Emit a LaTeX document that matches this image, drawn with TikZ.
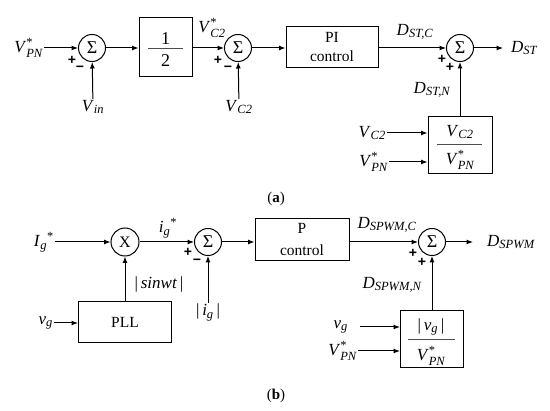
\documentclass[tikz,border=0pt]{standalone}
\usepackage{amsmath}
\usepackage{fontspec}
\setmainfont{Liberation Serif}
\setsansfont{Liberation Sans}
\usetikzlibrary{arrows.meta}
\newcommand\scr{\fontsize{12.5}{12.5}\selectfont}
\newcommand\vlab[3]{\textit{#1}\ensuremath{^{\text{\scr #2}}_{\text{\scr\itshape #3}}}}
\newcommand\vsub[2]{\textit{#1}\ensuremath{_{\text{\scr\itshape #2}}}}
\newcommand\vsubsup[2]{\textit{#1}\ensuremath{_{\text{\scr\itshape #2}}{}^{\text{\scr *}}}}
\begin{document}
\begin{tikzpicture}[x=1pt,y=-1pt,
  every node/.style={font=\fontsize{17}{19}\selectfont},
  sig/.style={draw, line width=1pt, -{Latex[length=6.5pt,width=5pt]}},
  sumc/.style={circle, draw, line width=1pt, minimum size=27pt, inner sep=0pt, font=\fontsize{18}{18}\selectfont},
  blk/.style={rectangle, draw, line width=1pt, inner sep=0pt, align=center, font=\fontsize{15.5}{19}\selectfont},
  lbl/.style={inner sep=1pt},
  frc/.style={inner sep=0pt},
  bar/.style={line width=0.7pt, black!70},
  sgn/.style={inner sep=0pt, font=\sffamily\bfseries\fontsize{14}{14}\selectfont},
  capt/.style={inner sep=0pt, font=\fontsize{15}{18}\selectfont}]
\useasboundingbox (0,0) rectangle (550,411);

% ---------------- (a) ----------------
\node[sumc] (s1) at (92,48) {Σ};
\node[lbl,anchor=east] (vpna) at (44,48) {\vlab{V}{*}{PN}};
\node[sgn] (s1p) at (72,60) {+};
\node[sgn] (s1m) at (80,69) {−};
\node[lbl,anchor=north] (vin) at (93,99) {\vsub{V}{in}};

\node[blk,minimum width=53pt,minimum height=59pt] (half) at (165.5,47.5) {};
\node[frc,font=\fontsize{18}{18}\selectfont] (hn) at (165.5,39) {1};
\node[frc,font=\fontsize{18}{18}\selectfont] (hd) at (165.5,61) {2};
\draw[bar] (148,48) -- (183,48);

\node[lbl] (vc2s) at (212,28) {\vlab{V}{*}{C2}};
\node[sumc] (s2) at (238,48) {Σ};
\node[sgn] (s2p) at (218,60) {+};
\node[sgn] (s2m) at (228,69) {−};
\node[lbl,anchor=north] (vc2) at (239,99) {\vsub{V}{C2}};

\node[blk,minimum width=92pt,minimum height=41pt] (pi) at (332,47.5) {PI\\control};

\node[lbl] (dstc) at (415,32) {\vsub{D}{ST,C}};
\node[sumc] (s3) at (460,48) {Σ};
\node[sgn] (s3p) at (442,59) {+};
\node[sgn] (s3q) at (450,67) {+};
\node[lbl,anchor=west] (dst) at (510,48) {\vsub{D}{ST}};
\node[lbl] (dstn) at (432,90) {\vsub{D}{ST,N}};

\node[blk,minimum width=64pt,minimum height=57pt] (f1) at (460,145.5) {};
\node[frc] (f1n) at (460,132) {\vsub{V}{C2}};
\node[frc] (f1d) at (460,160) {\vlab{V}{*}{PN}};
\draw[bar] (437,144) -- (482,144);
\node[lbl,anchor=east] (vc2b) at (387,133) {\vsub{V}{C2}};
\node[lbl,anchor=east] (vpnb) at (389,162) {\vlab{V}{*}{PN}};

\draw[sig] (vpna) -- (s1);
\draw[sig] (vin) -- (s1);
\draw[sig] (s1.east) -- (s1.east -| half.west);
\draw[sig] (half.east |- s2) -- (s2);
\draw[sig] (vc2) -- (s2);
\draw[sig] (s2.east) -- (s2.east -| pi.west);
\draw[sig] (pi.east |- s3) -- (s3);
\draw[sig] (s3.east) -- ([xshift=-7pt]dst.west);
\draw[sig] (f1.north) -- (s3.south);
\draw[sig] (vc2b) -- (vc2b -| f1.west);
\draw[sig] (vpnb) -- (vpnb -| f1.west);

\node[capt] (capa) at (276,199) {(\textbf{a})};

% ---------------- (b) ----------------
\node[lbl,anchor=east] (igs) at (55,242) {\vsubsup{I}{g}};
\node[sumc,minimum size=28pt,font=\fontsize{16}{16}\selectfont] (xm) at (125,242) {X};
\node[lbl] (igst) at (168,228) {\vsubsup{i}{g}};
\node[sumc] (s4) at (208,242) {Σ};
\node[sgn] (s4p) at (188,252) {+};
\node[sgn] (s4m) at (197,262) {−};
\node[lbl,anchor=north] (igabs) at (208,303) {|\,\vsub{i}{g}\,|};
\node[lbl] (sinwt) at (159,284) {|\,\textit{sinwt}\,|};
\node[blk,minimum width=93pt,minimum height=41pt] (pll) at (125,322.5) {PLL};
\node[lbl,anchor=east] (vg) at (54,323) {\vsub{v}{g}};

\node[blk,minimum width=94pt,minimum height=42pt] (pc) at (302,240) {P\\[3pt]control};

\node[lbl] (dspc) at (387,225) {\vsub{D}{SPWM,C}};
\node[sumc] (s5) at (432,242) {Σ};
\node[sgn] (s5p) at (413,253) {+};
\node[sgn] (s5q) at (422,262) {+};
\node[lbl,anchor=west] (dsp) at (486,242) {\vsub{D}{SPWM}};
\node[lbl] (dspn) at (392,285) {\vsub{D}{SPWM,N}};

\node[blk,minimum width=63pt,minimum height=57pt] (f2) at (432,339.5) {};
\node[frc] (f2n) at (431,327) {|\,\vsub{v}{g}\,|};
\node[frc] (f2d) at (431,356) {\vlab{V}{*}{PN}};
\draw[bar] (408,339) -- (455,339);
\node[lbl,anchor=east] (vg2) at (349,327) {\vsub{v}{g}};
\node[lbl,anchor=east] (vpnc) at (358,351) {\vlab{V}{*}{PN}};

\draw[sig] (igs) -- (xm);
\draw[sig] (xm) -- (s4);
\draw[sig] (igabs) -- (s4);
\draw[sig] (pll.north) -- (xm.south);
\draw[sig] (vg) -- (vg -| pll.west);
\draw[sig] (s4.east) -- (s4.east -| pc.west);
\draw[sig] (pc.east |- s5) -- (s5);
\draw[sig] (s5.east) -- ([xshift=-13pt]dsp.west);
\draw[sig] (f2.north) -- (s5.south);
\draw[sig] ([xshift=11pt]vg2.east) -- (vg2 -| f2.west);
\draw[sig] (vpnc) -- (vpnc -| f2.west);

\node[capt] (capb) at (276,396) {(\textbf{b})};
\end{tikzpicture}
\end{document}
